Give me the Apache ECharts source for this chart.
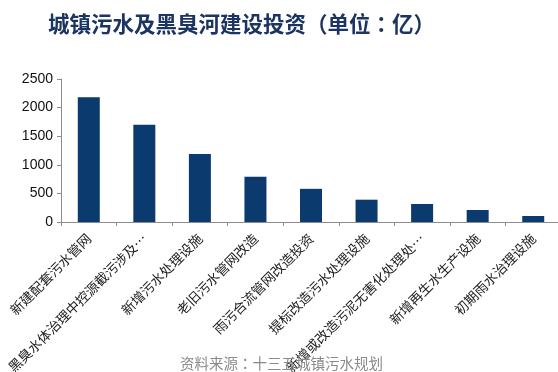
<!DOCTYPE html>
<html><head><meta charset="utf-8">
<script src="https://cdn.jsdelivr.net/npm/echarts@6/dist/echarts.min.js"></script>
<style>html,body{margin:0;padding:0;background:#fff}#c{width:558px;height:372px}</style>
</head><body><div id="c"></div>
<script>
var titleText = '城镇污水及黑臭河建设投资（单位：亿）';
var sourceText = '资料来源：十三五城镇污水规划';
var categories = ['新建配套污水管网','黑臭水体治理中控源截污涉及…','新增污水处理设施','老旧污水管网改造','雨污合流管网改造投资','提标改造污水处理设施','新增或改造污泥无害化处理处…','新增再生水生产设施','初期雨水治理设施'];
var values = [2180, 1700, 1190, 790, 580, 390, 315, 210, 105];
var yTicks = {min: 0, max: 2500, interval: 500};
var chart = echarts.init(document.getElementById('c'), null, {renderer: 'canvas'});
chart.setOption({
  animation: false,
  title: [{
    text: titleText, left: 43, top: 8,
    textStyle: {fontFamily: '"Noto Sans CJK TC", "Noto Sans CJK SC", sans-serif', fontSize: 21.5, fontWeight: 'bold', color: '#1c3461'}
  }, {
    text: sourceText, left: 175, top: 351,
    textStyle: {fontFamily: '"Noto Sans CJK TC", "Noto Sans CJK SC", sans-serif', fontSize: 14.5, fontWeight: 'normal', color: '#8a8a8a'}
  }],
  grid: {left: 61, top: 79, width: 500, height: 143, containLabel: false, outerBoundsMode: 'none'},
  xAxis: {
    type: 'category', data: categories,
    axisLine: {lineStyle: {color: '#8c8c8c', width: 1}},
    axisTick: {show: true, alignWithLabel: false, length: 4, lineStyle: {color: '#8c8c8c'}},
    axisLabel: {rotate: 45, interval: 0, margin: 14, color: '#222', fontSize: 13.5, fontFamily: '"Noto Sans CJK SC", sans-serif'}
  },
  yAxis: {
    type: 'value', min: yTicks.min, max: yTicks.max, interval: yTicks.interval,
    splitLine: {show: false},
    axisLine: {show: true, lineStyle: {color: '#8c8c8c', width: 1}},
    axisTick: {show: true, length: 4, lineStyle: {color: '#8c8c8c'}},
    axisLabel: {color: '#111', fontSize: 14, fontFamily: '"Liberation Sans", Arial, sans-serif', margin: 8, formatter: function (v) { return String(v); }}
  },
  series: [{
    type: 'bar', data: values, barWidth: 22,
    itemStyle: {color: '#0b3a6e'}
  }]
});
</script></body></html>
